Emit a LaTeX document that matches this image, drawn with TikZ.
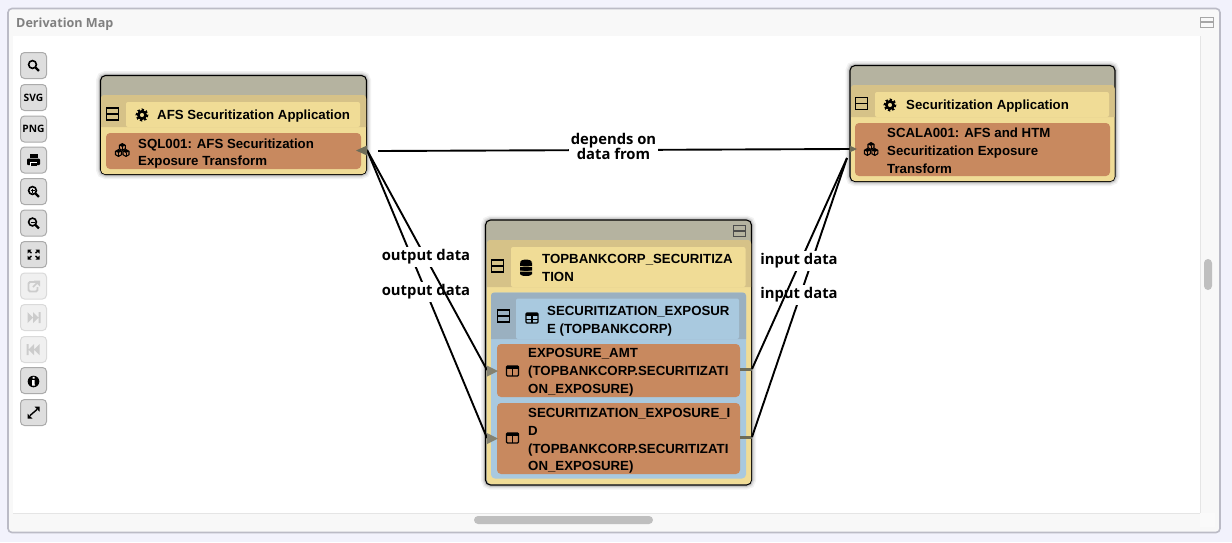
\documentclass[tikz,border=0pt]{standalone}
\usepackage{fontspec}
\setmainfont{Liberation Sans}
\newfontfamily\uifont{Open Sans}
\usetikzlibrary{shapes.geometric}
\definecolor{pagebg}{HTML}{F2F2FC}
\definecolor{panelbg}{HTML}{F8F8F8}
\definecolor{paneledge}{HTML}{BBBBC6}
\definecolor{titlegrey}{HTML}{808080}
\definecolor{stripgrey}{HTML}{B5B3A0}
\definecolor{appyellow}{HTML}{F0DC96}
\definecolor{appdark}{HTML}{D6C288}
\definecolor{itemorange}{HTML}{C8895F}
\definecolor{tableblue}{HTML}{A9C9DF}
\definecolor{tabledark}{HTML}{9AB0C0}
\definecolor{portgrey}{HTML}{6E6C58}
\definecolor{btnfill}{HTML}{DEDEDE}
\definecolor{btnedge}{HTML}{ABABAB}
\definecolor{offfill}{HTML}{F0F0F0}
\definecolor{offedge}{HTML}{DADADA}
\tikzset{
  softshadow/.style={preaction={draw=black,opacity=.05,line width=9pt},
    preaction={draw=black,opacity=.08,line width=6pt},
    preaction={draw=black,opacity=.12,line width=3.5pt}},
  appbox/.style={draw=black,fill=stripgrey,line width=1.1pt,rounded corners=5pt,softshadow},
  itembox/.style={fill=itemorange,rounded corners=4pt,inner sep=0pt},
  itemtext/.style={right,align=left,inner sep=0pt,font=\fontsize{13.25}{17.8}\selectfont\bfseries},
  edgelabel/.style={fill=white,inner sep=1.5pt,align=center,minimum height=20pt,
    font=\uifont\fontsize{14.8}{16}\selectfont\bfseries},
  edgeline/.style={draw=black,line width=1.9pt},
  minusbox/.style={draw=black,line width=1.1pt,inner sep=0pt,minimum width=12.5pt,minimum height=12pt,
    path picture={\draw[line width=1.7pt] (path picture bounding box.west)--(path picture bounding box.east);}},
  toolbtn/.style={draw=btnedge,fill=btnfill,line width=1pt,rounded corners=4pt,inner sep=0pt,
    minimum width=26pt,minimum height=26pt,font=\uifont\fontsize{10.2}{10}\selectfont\bfseries},
  toolbtnoff/.style={toolbtn,draw=offedge,fill=offfill},
  gearicon/.pic={\draw[line width=2.6pt] (0,0) circle (3.6);
    \draw[line width=2.2pt,dash pattern=on 2.1pt off 2.01pt] (0,0) circle (5.4);},
  cubeicon/.pic={\draw[line width=1.1pt,fill=itemorange,line join=round] (0,-3.4)--(3,-1.7)--(3,1.7)--(0,3.4)--(-3,1.7)--(-3,-1.7)--cycle;
    \fill (0,-3.4)--(3,-1.7)--(0,0)--(-3,-1.7)--cycle;
    \draw[line width=.9pt] (0,0)--(0,3.4);},
  tableicon/.pic={\draw[line width=1.3pt,rounded corners=1pt] (-6,-5) rectangle (6,5);
    \fill (-6,-5) rectangle (6,-2.5);
    \draw[line width=1.1pt] (0,-2.5)--(0,5) (-6,1.2)--(6,1.2);},
  columnicon/.pic={\draw[line width=1.3pt,rounded corners=1pt] (-6,-5) rectangle (6,5);
    \fill (-6,-5) rectangle (6,-2.5);
    \draw[line width=1.2pt] (0,-2.5)--(0,5);},
  lensicon/.pic={\draw[line width=1.6pt] (-1,-1) circle (3.9);
    \draw[line width=2.2pt] (1.8,1.8)--(5.4,5.4);},
}
\begin{document}
\begin{tikzpicture}[x=1pt,y=-1pt]
\useasboundingbox (0,0) rectangle (1232,542);
\fill[pagebg] (0,0) rectangle (1232,542);
\node (panel) at (614,270.5)[draw=paneledge,fill=panelbg,line width=1.6pt,rounded corners=4pt,minimum width=1212pt,minimum height=524pt,inner sep=0pt]{};
\node (paneltitle) at (16,24)[right,inner sep=0pt,text=titlegrey,font=\uifont\fontsize{12.6}{14}\selectfont\bfseries]{Derivation Map};
\node (panelminus) at (1207,22)[minusbox,draw=titlegrey!70,line width=.8pt,minimum height=10pt]{};
\fill[white] (13,36) rectangle (1200,513);
\draw[black!10] (1200,36)--(1200,513)--(13,513);
\fill[white!98!black] (1200,513) rectangle (1215,527);
\node (vthumb) at (1208,274.5)[fill=black!25,rounded corners=4pt,minimum width=8pt,minimum height=31pt,inner sep=0pt]{};
\node (hthumb) at (563.5,520)[fill=black!25,rounded corners=4pt,minimum width=179pt,minimum height=8pt,inner sep=0pt]{};
% toolbar
\node (btnsearch) at (33.5,65.5)[toolbtn]{};
\pic at (33.5,65.5) {lensicon};
\node (btnsvg) at (33.5,97.5)[toolbtn]{SVG};
\node (btnpng) at (33.5,129)[toolbtn]{PNG};
\node (btnprint) at (33.5,160)[toolbtn]{};
\fill (29.5,154) rectangle (37.5,158);
\fill[rounded corners=1pt] (27,158.5) rectangle (40,165);
\fill[white] (30,161.5) rectangle (37,166);
\fill (30.5,163) rectangle (36.5,166);
\node (btnzoomin) at (33.5,191.5)[toolbtn]{};
\pic at (33.5,191.5) {lensicon};
\draw[line width=1pt] (30.5,190.5)--(34.5,190.5) (32.5,188.5)--(32.5,192.5);
\node (btnzoomout) at (33.5,223)[toolbtn]{};
\pic at (33.5,223) {lensicon};
\draw[line width=1pt] (30.5,222)--(34.5,222);
\node (btnfit) at (33.5,254.5)[toolbtn]{};
\fill (27.5,249.5)--(31.5,249.5)--(27.5,253.5)--cycle (39.5,249.5)--(35.5,249.5)--(39.5,253.5)--cycle (27.5,259.5)--(31.5,259.5)--(27.5,255.5)--cycle (39.5,259.5)--(35.5,259.5)--(39.5,255.5)--cycle;
\draw[line width=1.4pt] (29,251)--(31.5,253) (38,251)--(35.5,253) (29,258)--(31.5,256) (38,258)--(35.5,256);
\node (btnshare) at (33.5,286)[toolbtnoff]{};
\draw[black!20,line width=1.8pt,rounded corners=1.5pt] (36,282)--(28.5,282)--(28.5,291.5)--(37.5,291.5)--(37.5,287);
\fill[black!20] (34,280.5)--(40,280.5)--(40,286.5)--cycle;
\draw[black!20,line width=1.6pt] (33,287)--(37.5,282.5);
\node (btnnext) at (33.5,317.5)[toolbtnoff]{};
\fill[black!20] (27.5,312)--(33,317.5)--(27.5,323)--cycle (33,312)--(38.5,317.5)--(33,323)--cycle (38.5,312) rectangle (40.5,323);
\node (btnprev) at (33.5,349.5)[toolbtnoff]{};
\fill[black!20] (39.5,344)--(34,349.5)--(39.5,355)--cycle (34,344)--(28.5,349.5)--(34,355)--cycle (26.5,344) rectangle (28.5,355);
\node (btninfo) at (33.5,380.5)[toolbtn]{};
\fill (33.5,381.5) circle (5.8);
\fill[white] (32.7,376.8) rectangle (34.5,378.6) (32,380) rectangle (34.5,385) (32,384.6) rectangle (35.2,385.6);
\node (btnfull) at (33.5,412.5)[toolbtn]{};
\draw[line width=1.4pt] (30,415.5)--(37,409.5);
\fill (34.5,406.5)--(39.5,406.5)--(39.5,411.5)--cycle (27.5,413.5)--(27.5,418.5)--(32.5,418.5)--cycle;
% afs application
\node (afsapp) at (233.5,125)[appbox,minimum width=266pt,minimum height=99pt,inner sep=0pt]{};
\fill[appyellow,rounded corners=4pt] (101,95) rectangle (366,174);
\fill[appdark] (101,127) [rounded corners=3pt] -- (101,95) -- (366,95) [sharp corners] -- (366,127) -- cycle;
\fill[appyellow,rounded corners=2pt] (126,127) -- (126,102) -- (360,102) -- (360,127) -- cycle;
\node (afsminus) at (112.5,114)[minusbox]{};
\pic at (142,115) {gearicon};
\node (afstitle) at (157,116.5)[itemtext]{AFS Securitization Application};
\node (sqlbox) at (233.5,151)[itembox,minimum width=255pt,minimum height=36pt]{};
\pic at (118.5,153) {cubeicon};
\pic at (126,153) {cubeicon};
\pic at (122.3,147) {cubeicon};
\node (sqltext) at (138,153.5)[itemtext]{SQL001: AFS Securitization\\Exposure Transform};
% securitization application
\node (scalaapp) at (982.5,123.5)[appbox,minimum width=265pt,minimum height=116pt,inner sep=0pt]{};
\fill[appyellow,rounded corners=4pt] (851,85) rectangle (1114.5,181);
\fill[appdark] (851,117) [rounded corners=3pt] -- (851,85) -- (1114.5,85) [sharp corners] -- (1114.5,117) -- cycle;
\fill[appyellow,rounded corners=2pt] (875,117) -- (875,92) -- (1109,92) -- (1109,117) -- cycle;
\node (scalaminus) at (861.5,103.5)[minusbox]{};
\pic at (890,105) {gearicon};
\node (scalatitle) at (906,106.5)[itemtext]{Securitization Application};
\node (scalabox) at (982.5,149.5)[itembox,minimum width=255pt,minimum height=53pt]{};
\pic at (867.3,152) {cubeicon};
\pic at (874.8,152) {cubeicon};
\pic at (871,146) {cubeicon};
\node (scalatext) at (887,151)[itemtext]{SCALA001: AFS and HTM\\Securitization Exposure\\Transform};
% schema
\node (schema) at (618.5,352.5)[appbox,minimum width=266pt,minimum height=265pt,inner sep=0pt]{};
\fill[appyellow,rounded corners=4pt] (487,240) rectangle (751,484);
\fill[appdark] (487,287) [rounded corners=3pt] -- (487,240) -- (751,240) [sharp corners] -- (751,287) -- cycle;
\fill[appyellow,rounded corners=2pt] (511,287) -- (511,247) -- (745.5,247) -- (745.5,287) -- cycle;
\node (schemaclose) at (739.5,231)[minusbox,minimum height=10.5pt,draw=black!70]{};
\node (schemaminus) at (497.5,266)[minusbox]{};
\fill (520,262.5) rectangle (532,266) (520,267) rectangle (532,270.5) (520,271.5) rectangle (532,274);
\fill (526,262) ellipse (6 and 2.4) (526,274) ellipse (6 and 2);
\fill (526,268.7) ellipse (6 and 2.2);
\node (schematext) at (542,268)[itemtext]{TOPBANKCORP\_SECURITIZA\\TION};
% table
\node (tablebox) at (618.5,385.5)[fill=tableblue,rounded corners=4pt,minimum width=255pt,minimum height=186pt,inner sep=0pt]{};
\fill[tabledark] (491,339) [rounded corners=3pt] -- (491,292.5) -- (746,292.5) [sharp corners] -- (746,339) -- cycle;
\fill[tableblue,rounded corners=2pt] (516,339) -- (516,298.5) -- (739,298.5) -- (739,339) -- cycle;
\node (tableminus) at (503.5,316)[minusbox]{};
\pic at (532,318) {tableicon};
\node (tabletext) at (547,321)[itemtext]{SECURITIZATION\_EXPOSUR\\E (TOPBANKCORP)};
\node (amtbox) at (618.5,370.5)[itembox,minimum width=243pt,minimum height=53pt]{};
\pic at (512.5,371) {columnicon};
\node (amttext) at (528,372.5)[itemtext]{EXPOSURE\_AMT\\(TOPBANKCORP.SECURITIZATI\\ON\_EXPOSURE)};
\node (idbox) at (618.5,438.5)[itembox,minimum width=243pt,minimum height=71pt]{};
\pic at (512.5,438) {columnicon};
\node (idtext) at (528,441)[itemtext]{SECURITIZATION\_EXPOSURE\_I\\D\\(TOPBANKCORP.SECURITIZATI\\ON\_EXPOSURE)};
% connectors
\coordinate (sqlout) at (367,150);
\coordinate (sqlgap) at (378,151);
\coordinate (scalain) at (850,149);
\coordinate (scalalow) at (847,158);
\coordinate (amtin) at (487,370);
\coordinate (idin) at (487,438);
\coordinate (amtout) at (752,369);
\coordinate (idout) at (752,437);
\coordinate (amtstub) at (740,369);
\coordinate (idstub) at (740,437);
\draw[portgrey,line width=3pt] (amtstub)--(amtout);
\draw[portgrey,line width=3pt] (idstub)--(idout);
\draw[edgeline] (sqlgap)--(scalain);
\node (dependslabel) at (613.5,146.5)[edgelabel]{depends on\\[-1pt]data from};
\draw[edgeline] (sqlout)--(idin);
\node (outputlabelb) at (426,292)[edgelabel]{output data};
\draw[edgeline] (sqlout)--(amtin);
\node (outputlabela) at (426,257)[edgelabel]{output data};
\draw[edgeline] (idout)--(scalalow);
\node (inputlabelb) at (799,295)[edgelabel]{input data};
\draw[edgeline] (amtout)--(scalalow);
\node (inputlabela) at (799,261)[edgelabel]{input data};
\fill[portgrey] (356,150.5)--(367,145.5)--(367,155.5)--cycle;
\fill[portgrey] (857,149)--(849.5,145.5)--(849.5,152.5)--cycle;
\fill[portgrey!85] (498,371)--(487,365.5)--(487,376.5)--cycle;
\fill[portgrey!85] (498,438.5)--(487,433)--(487,444)--cycle;
\end{tikzpicture}
\end{document}
